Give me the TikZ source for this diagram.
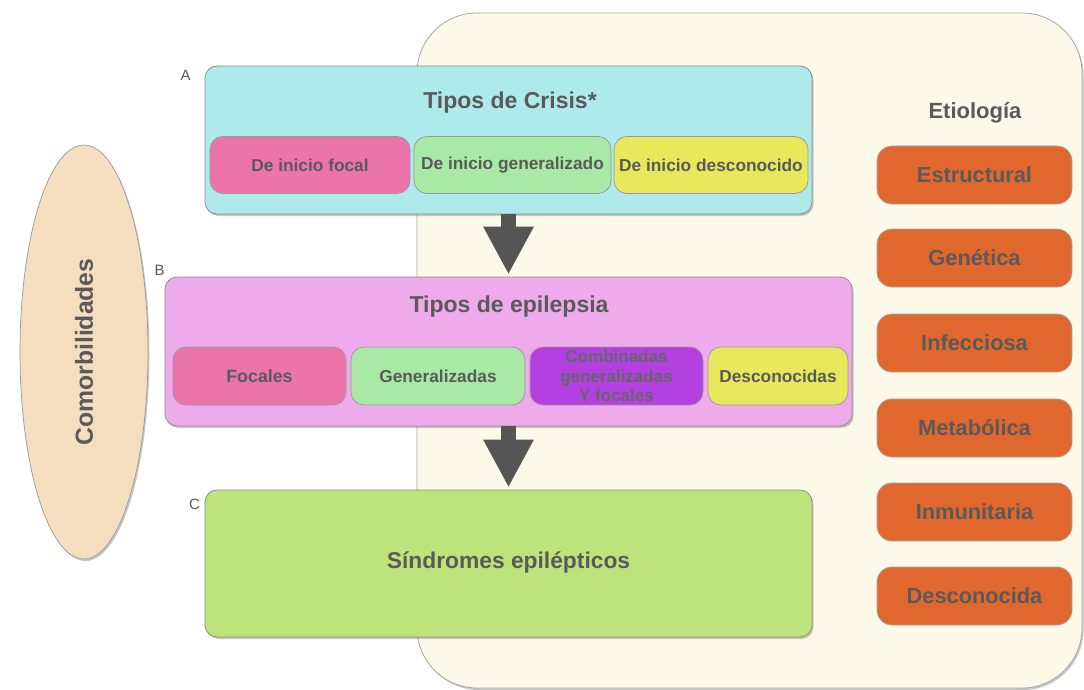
\documentclass[tikz,border=0pt]{standalone}
\usepackage{fontspec}
\setmainfont{Liberation Sans}
\usetikzlibrary{shapes.geometric,shadows,arrows.meta,calc}
\definecolor{bgbeige}{HTML}{FDF9E9}
\definecolor{cyanbox}{HTML}{AEE9EC}
\definecolor{pinkbox}{HTML}{EB74AA}
\definecolor{greenbox}{HTML}{A8E9A6}
\definecolor{yellowbox}{HTML}{E9E85C}
\definecolor{magbox}{HTML}{EEAAEA}
\definecolor{purplebox}{HTML}{B340E0}
\definecolor{limebox}{HTML}{BCE47A}
\definecolor{orangebox}{HTML}{E0682E}
\definecolor{peach}{HTML}{F5DEC0}
\definecolor{txtgray}{HTML}{5A5A5A}
\definecolor{arrowgray}{HTML}{555555}
\begin{document}
\begin{tikzpicture}[x=1pt,y=-1pt,
  shade/.style={drop shadow={shadow xshift=1.5pt,shadow yshift=-2pt,opacity=0.3,fill=black!70}},
  panel/.style={draw=black!35,line width=0.8pt,fill=bgbeige,rounded corners=60pt,shade},
  bigbox/.style={draw=black!45,line width=0.8pt,rounded corners=12pt,shade,inner sep=0pt},
  subbox/.style={draw=black!40,line width=0.7pt,rounded corners=13pt,inner sep=0pt,
    minimum height=57pt,text=txtgray,font=\bfseries\fontsize{17.3}{20}\selectfont},
  etbox/.style={draw=black!35,line width=0.7pt,rounded corners=15pt,fill=orangebox,inner sep=0pt,
    minimum width=195pt,minimum height=58pt,text=txtgray,font=\bfseries\fontsize{21.8}{24}\selectfont},
  titletext/.style={text=txtgray,font=\bfseries\fontsize{23}{26}\selectfont,inner sep=0pt},
  lettertext/.style={text=txtgray,font=\fontsize{15}{17}\selectfont,inner sep=0pt},
  bigarrow/.style={draw=arrowgray,line width=15pt,-{Triangle[length=48pt,width=47pt]},shorten >=2pt}
]
\useasboundingbox (0,0) rectangle (1084,690);
\fill[white] (0,0) rectangle (1084,690);

% background panel
\node[panel,minimum width=665pt,minimum height=675pt,inner sep=0pt] (bg) at (749.5,350.5) {};

% Comorbilidades
\node[ellipse,draw=black!40,line width=0.7pt,fill=peach,shade,minimum width=128pt,minimum height=414pt,inner sep=0pt] (com) at (84,352) {};
\node[titletext,rotate=90,font=\bfseries\fontsize{24.7}{28}\selectfont] (comt) at (com.center) {Comorbilidades};

% A
\node[bigbox,fill=cyanbox,minimum width=607pt,minimum height=148pt] (A) at (508.5,140) {};
\node[lettertext] (Al) at ($(A.north west)+(-19,10)$) {A};
\node[titletext] (At) at (510,103) {Tipos de Crisis*};
\node[subbox,fill=pinkbox,minimum width=200pt] (A1) at (310,165) {De inicio focal};
\node[subbox,fill=greenbox,minimum width=197pt] (A2) at (512.5,165) {De inicio generalizado};
\node[subbox,fill=yellowbox,minimum width=194pt] (A3) at (711,165) {De inicio desconocido};

% B
\node[bigbox,fill=magbox,minimum width=687pt,minimum height=149pt] (B) at (508.5,351.5) {};
\node[lettertext] (Bl) at ($(B.north west)+(-5,-6)$) {B};
\node[titletext] (Bt) at (509,307) {Tipos de epilepsia};
\node[subbox,fill=pinkbox,minimum width=173pt,minimum height=58pt,font=\bfseries\fontsize{17.8}{20}\selectfont] (B1) at (259.5,376) {Focales};
\node[subbox,fill=greenbox,minimum width=174pt,minimum height=58pt] (B2) at (438,376) {Generalizadas};
\node[subbox,fill=purplebox,minimum width=173pt,minimum height=58pt,align=center,text=black!60,font=\bfseries\fontsize{17}{19.5}\selectfont] (B3) at (616.5,376) {Combinadas\\generalizadas\\Y focales};
\node[subbox,fill=yellowbox,minimum width=140pt,minimum height=58pt] (B4) at (778,376) {Desconocidas};

% C
\node[bigbox,fill=limebox,minimum width=607pt,minimum height=147pt,text=txtgray,font=\bfseries\fontsize{22.8}{26}\selectfont] (C) at (508.5,563.5) {\raisebox{6pt}{Síndromes epilépticos}};
\node[lettertext] (Cl) at ($(C.north west)+(-10,15)$) {C};

% arrows
\draw[bigarrow] (A.south) -- (B.north);
\draw[bigarrow] (B.south) -- (C.north);

% Etiologia
\node[titletext,font=\bfseries\fontsize{22}{26}\selectfont] (Et) at (975,113) {Etiología};
\node[etbox] (E1) at (974.5,175) {Estructural};
\node[etbox] (E2) at (974.5,258) {Genética};
\node[etbox] (E3) at (974.5,343) {Infecciosa};
\node[etbox] (E4) at (974.5,428) {Metabólica};
\node[etbox] (E5) at (974.5,512) {Inmunitaria};
\node[etbox] (E6) at (974.5,596) {Desconocida};
\end{tikzpicture}
\end{document}
